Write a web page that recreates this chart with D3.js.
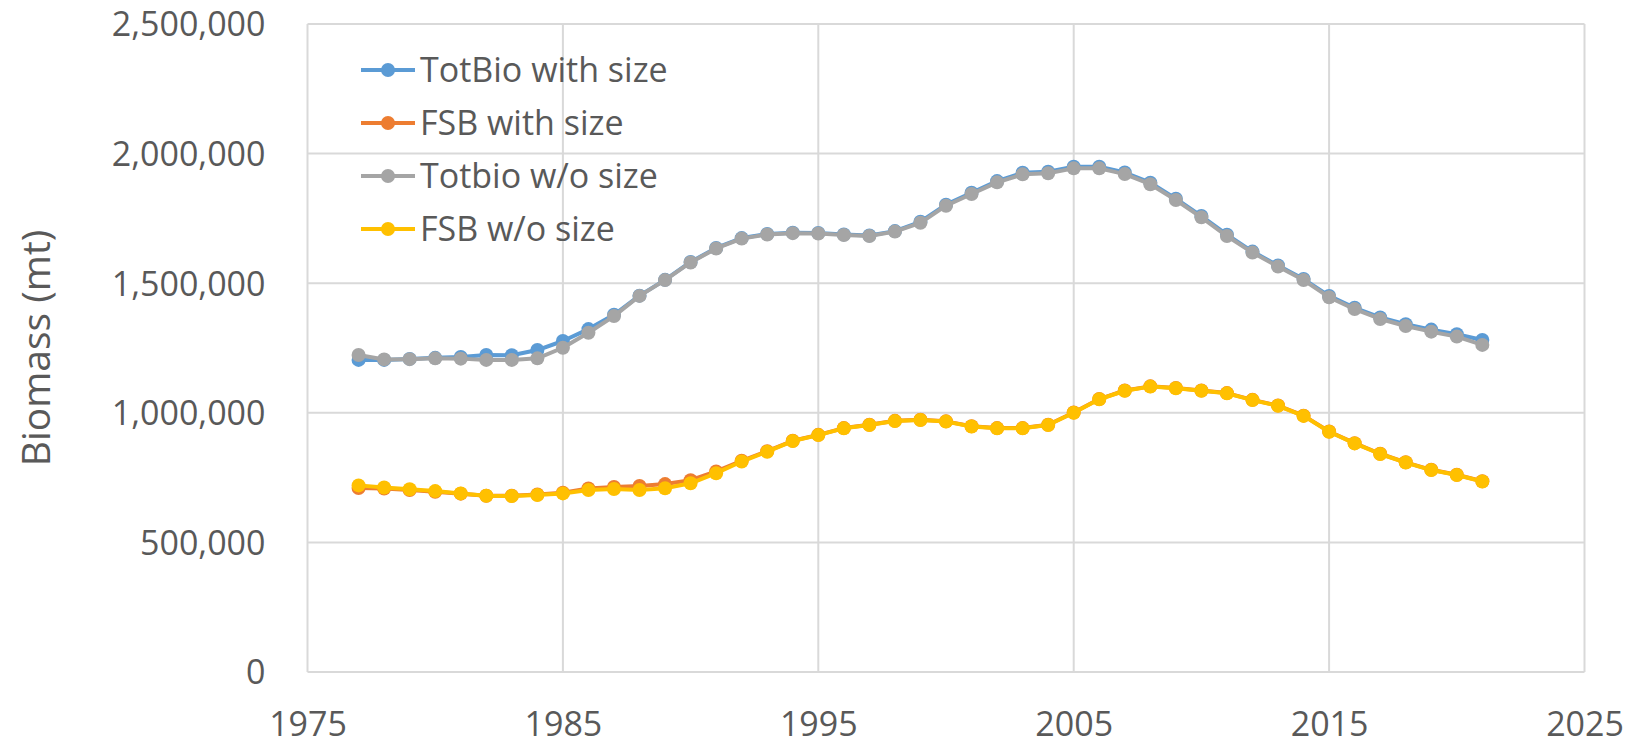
<!DOCTYPE html>
<html><head><meta charset="utf-8">
<script src="https://cdn.jsdelivr.net/npm/d3@7"></script>
<style>
html,body{margin:0;padding:0;background:#fff;}
text{font-family:"Open Sans",sans-serif;fill:#595959;}
</style></head>
<body><svg id="c" width="1634" height="745"></svg>
<script>
const years = d3.range(1977, 2022);
const totBioWithSize = [1.204,1.204,1.208,1.212,1.215,1.223,1.222,1.242,1.277,1.323,1.378,1.452,1.513,1.582,1.636,1.674,1.690,1.695,1.694,1.688,1.684,1.701,1.737,1.803,1.849,1.894,1.926,1.930,1.949,1.949,1.927,1.888,1.826,1.759,1.687,1.622,1.568,1.516,1.451,1.405,1.368,1.342,1.321,1.303,1.281].map(v=>v*1e6);
const fsbWithSize = [0.710,0.708,0.702,0.695,0.688,0.680,0.680,0.685,0.692,0.708,0.714,0.718,0.725,0.740,0.774,0.815,0.852,0.892,0.915,0.941,0.954,0.969,0.973,0.967,0.948,0.941,0.941,0.954,1.001,1.053,1.086,1.102,1.096,1.086,1.076,1.050,1.028,0.989,0.928,0.883,0.842,0.809,0.780,0.761,0.736].map(v=>v*1e6);
const totBioNoSize = [1.223,1.206,1.207,1.210,1.209,1.204,1.204,1.210,1.251,1.309,1.373,1.451,1.512,1.580,1.634,1.672,1.688,1.693,1.692,1.686,1.682,1.699,1.733,1.799,1.844,1.889,1.920,1.924,1.943,1.943,1.921,1.882,1.821,1.754,1.682,1.618,1.564,1.512,1.446,1.400,1.362,1.335,1.313,1.294,1.262].map(v=>v*1e6);
const fsbNoSize = [0.720,0.712,0.705,0.698,0.689,0.680,0.679,0.683,0.689,0.702,0.706,0.702,0.709,0.728,0.767,0.812,0.850,0.891,0.914,0.940,0.953,0.968,0.972,0.966,0.947,0.940,0.940,0.953,1.000,1.052,1.085,1.101,1.095,1.085,1.075,1.049,1.027,0.988,0.927,0.882,0.841,0.808,0.779,0.760,0.735].map(v=>v*1e6);
const seriesNames = ["TotBio with size","FSB with size","Totbio w/o size","FSB w/o size"];
const seriesColors = ["#5B9BD5","#ED7D31","#A5A5A5","#FFC000"];
const xTicks = [1975,1985,1995,2005,2015,2025];
const yTicks = [0,500000,1000000,1500000,2000000,2500000];
const yTitle = "Biomass (mt)";

const svg = d3.select("#c");
const L=307.5, R=1584.5, T=24, B=672;
const x = d3.scaleLinear().domain([1975,2025]).range([L,R]);
const y = d3.scaleLinear().domain([0,2500000]).range([B,T]);
const fmt = d3.format(",");

svg.append("g").selectAll("line").data(yTicks).join("line")
  .attr("x1",L).attr("x2",R).attr("y1",d=>y(d)).attr("y2",d=>y(d))
  .attr("stroke","#d9d9d9").attr("stroke-width",2);
svg.append("g").selectAll("line").data(xTicks).join("line")
  .attr("y1",T).attr("y2",B).attr("x1",d=>x(d)).attr("x2",d=>x(d))
  .attr("stroke","#d9d9d9").attr("stroke-width",2);

const yAxis = svg.append("g").attr("transform",`translate(${L-42},0)`)
  .call(d3.axisLeft(y).tickValues(yTicks).tickFormat(fmt).tickSize(0).tickPadding(0));
yAxis.select(".domain").remove();
yAxis.selectAll("text").attr("font-size",34).attr("font-family","Open Sans").attr("fill","#595959").attr("dy","0.35em");

const xAxis = svg.append("g").attr("transform",`translate(0,${B})`)
  .call(d3.axisBottom(x).tickValues(xTicks).tickFormat(d3.format("d")).tickSize(0).tickPadding(40));
xAxis.select(".domain").remove();
xAxis.selectAll("text").attr("font-size",34).attr("font-family","Open Sans").attr("fill","#595959");

svg.append("text").attr("transform",`translate(36,${(T+B)/2}) rotate(-90)`)
  .attr("text-anchor","middle").attr("dy","0.35em").attr("font-size",39).text(yTitle);

const data = [totBioWithSize, fsbWithSize, totBioNoSize, fsbNoSize];
const line = d3.line().x((d,i)=>x(years[i])).y(d=>y(d));
data.forEach((s,k)=>{
  const g = svg.append("g");
  g.append("path").attr("d",line(s)).attr("fill","none").attr("stroke",seriesColors[k]).attr("stroke-width",4).attr("stroke-linejoin","round");
  g.selectAll("circle").data(s).join("circle").attr("cx",(d,i)=>x(years[i])).attr("cy",d=>y(d)).attr("r",7).attr("fill",seriesColors[k]);
});

const lg = svg.append("g");
seriesNames.forEach((n,k)=>{
  const yy = 70 + k*53;
  lg.append("line").attr("x1",361).attr("x2",415).attr("y1",yy).attr("y2",yy).attr("stroke",seriesColors[k]).attr("stroke-width",4);
  lg.append("circle").attr("cx",388).attr("cy",yy).attr("r",7).attr("fill",seriesColors[k]);
  lg.append("text").attr("x",420).attr("y",yy).attr("dy","0.35em").attr("font-size",34).text(n);
});
</script></body></html>
